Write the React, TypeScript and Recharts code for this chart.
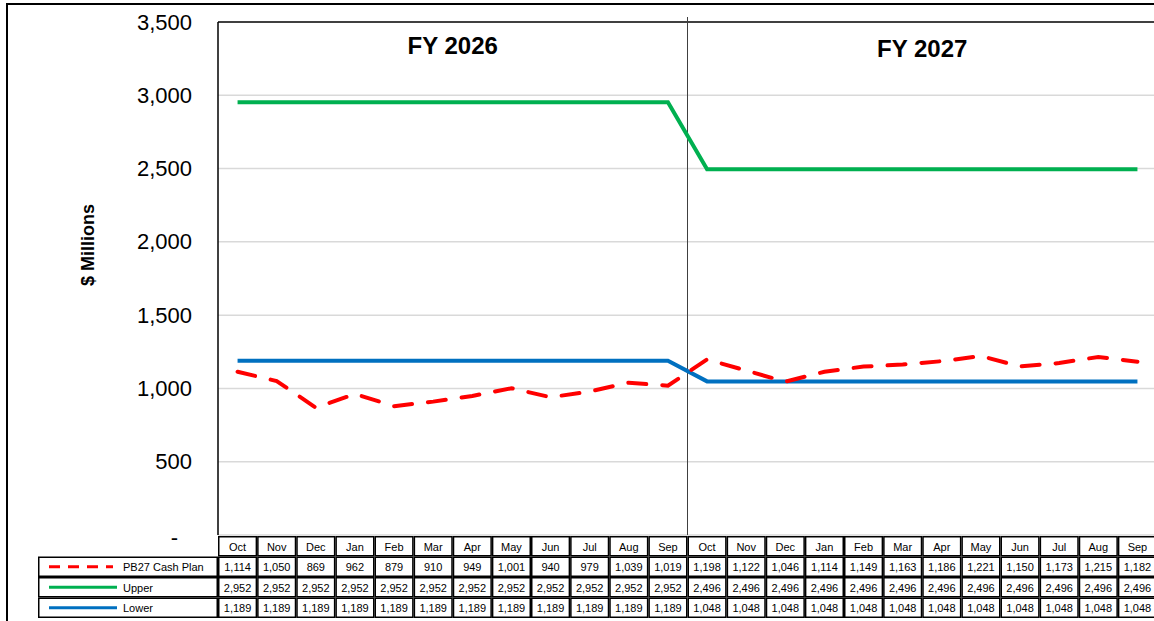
import React from 'react';
import {
  LineChart,
  Line,
  XAxis,
  YAxis,
  CartesianGrid,
  ReferenceLine,
  ReferenceArea,
} from 'recharts';

const months = ['Oct', 'Nov', 'Dec', 'Jan', 'Feb', 'Mar', 'Apr', 'May', 'Jun', 'Jul', 'Aug', 'Sep'];
const fiscalYears = ['FY 2026', 'FY 2027'];

const cashPlan = [
  1114, 1050, 869, 962, 879, 910, 949, 1001, 940, 979, 1039, 1019,
  1198, 1122, 1046, 1114, 1149, 1163, 1186, 1221, 1150, 1173, 1215, 1182,
];
const upper = [
  2952, 2952, 2952, 2952, 2952, 2952, 2952, 2952, 2952, 2952, 2952, 2952,
  2496, 2496, 2496, 2496, 2496, 2496, 2496, 2496, 2496, 2496, 2496, 2496,
];
const lower = [
  1189, 1189, 1189, 1189, 1189, 1189, 1189, 1189, 1189, 1189, 1189, 1189,
  1048, 1048, 1048, 1048, 1048, 1048, 1048, 1048, 1048, 1048, 1048, 1048,
];
const yTicks = [0, 500, 1000, 1500, 2000, 2500, 3000, 3500];

const series = [
  { key: 'cash', name: 'PB27 Cash Plan', color: '#FF0000', dash: '18 16' },
  { key: 'upper', name: 'Upper', color: '#00B050', dash: undefined },
  { key: 'lower', name: 'Lower', color: '#0070C0', dash: undefined },
];

const data = fiscalYears.flatMap((fy, f) =>
  months.map((m, i) => {
    const idx = f * 12 + i;
    return { key: `${fy}-${m}`, month: m, cash: cashPlan[idx], upper: upper[idx], lower: lower[idx] };
  })
);

// layout
const W = 1160;
const H = 621;
const TOP = 22;
const LEFT = 218;
const RIGHT = 3;
const BOTTOM = 86;
const BAND = (W - LEFT - RIGHT) / data.length;
const TABLE_TOP = H - BOTTOM + 1;
const ROW_H = 20.5;
const FONT = 'Arial, "Liberation Sans", sans-serif';

const fmt = (v: number) => v.toLocaleString('en-US');

function TableTick({ x, payload }: any) {
  const d: any = data.find((r) => r.key === payload.value);
  if (!d) return null;
  const cells = [d.month, ...series.map((s) => fmt(d[s.key]))];
  const left = x - BAND / 2;
  return (
    <g>
      {cells.map((c, r) => (
        <g key={r}>
          <rect
            x={left + 0.75}
            y={TABLE_TOP + r * ROW_H + 0.75}
            width={BAND - 1.5}
            height={ROW_H - 1.5}
            fill="#fff"
            stroke="#000"
            strokeWidth={1.5}
          />
          <text
            x={x}
            y={TABLE_TOP + r * ROW_H + ROW_H / 2 + 0.5}
            textAnchor="middle"
            dominantBaseline="central"
            fontSize={11}
            fontFamily={FONT}
            fill="#000"
          >
            {c}
          </text>
        </g>
      ))}
    </g>
  );
}

function YTick({ x, y, payload }: any) {
  const v = payload.value;
  return (
    <text
      x={v === 0 ? x - 14 : x}
      y={v === 0 ? y + 2 : y}
      textAnchor="end"
      dominantBaseline="central"
      fontSize={22}
      fontFamily={FONT}
      fill="#000"
    >
      {v === 0 ? '-' : fmt(v)}
    </text>
  );
}

const fyLabel = (text: string, dy: number) => (props: any) => {
  const vb = props.viewBox;
  return (
    <text
      x={vb.x + vb.width / 2}
      y={TOP + dy}
      textAnchor="middle"
      dominantBaseline="central"
      fontSize={24}
      fontWeight="bold"
      fontFamily={FONT}
      fill="#000"
    >
      {text}
    </text>
  );
};

export default function App() {
  return (
    <div
      style={{
        position: 'absolute',
        left: 0,
        top: 0,
        width: 1154,
        height: 621,
        overflow: 'hidden',
        background: '#fff',
        fontFamily: FONT,
      }}
    >
      <LineChart
        width={W}
        height={H}
        data={data}
        margin={{ top: TOP, left: 0, right: RIGHT, bottom: 0 }}
      >
        <CartesianGrid vertical={false} stroke="#D9D9D9" strokeWidth={1.5} />
        <XAxis
          dataKey="key"
          scale="band"
          interval={0}
          height={BOTTOM}
          axisLine={false}
          tickLine={false}
          tickSize={0}
          tickMargin={0}
          tick={<TableTick />}
        />
        <YAxis
          width={LEFT}
          domain={[0, 3500]}
          ticks={yTicks}
          axisLine={{ stroke: '#000', strokeWidth: 1.5 }}
          tickLine={false}
          tickSize={0}
          tickMargin={26}
          tick={<YTick />}
        />
        {fiscalYears.map((fy, f) => (
          <ReferenceArea
            key={fy}
            x1={`${fy}-${months[0]}`}
            x2={`${fy}-${months[11]}`}
            fill="none"
            fillOpacity={0}
            ifOverflow="visible"
            label={fyLabel(fy, f === 0 ? 23 : 26)}
          />
        ))}
        <ReferenceLine y={3500} stroke="#404040" strokeWidth={2} />
        <ReferenceLine
          x={`${fiscalYears[0]}-${months[11]}`}
          position="end"
          ifOverflow="visible"
          shape={(p: any) => (
            <line x1={p.x1} x2={p.x2} y1={Math.min(p.y1, p.y2) - 5} y2={Math.max(p.y1, p.y2)} stroke="#404040" strokeWidth={1} />
          )}
        />
        <Line dataKey="upper" stroke="#00B050" strokeWidth={4} dot={false} isAnimationActive={false} />
        <Line dataKey="lower" stroke="#0070C0" strokeWidth={4} dot={false} isAnimationActive={false} />
        <Line
          dataKey="cash"
          stroke="#FF0000"
          strokeWidth={4}
          strokeDasharray="18 16"
          strokeLinecap="round"
          dot={false}
          isAnimationActive={false}
        />
      </LineChart>
      <svg
        width={1154}
        height={621}
        style={{ position: 'absolute', left: 0, top: 0, pointerEvents: 'none' }}
      >
        <line x1={6} x2={1154} y1={4} y2={4} stroke="#000" strokeWidth={2} />
        <line x1={7} x2={7} y1={3} y2={621} stroke="#000" strokeWidth={2} />
        <text
          transform="translate(88,245) rotate(-90)"
          textAnchor="middle"
          dominantBaseline="central"
          fontSize={18}
          fontWeight="bold"
          fontFamily={FONT}
          fill="#000"
        >
          $ Millions
        </text>
        {series.map((s, r) => {
          const top = TABLE_TOP + (r + 1) * ROW_H;
          const cy = top + ROW_H / 2;
          return (
            <g key={s.key}>
              <rect
                x={38.75}
                y={top + 0.75}
                width={LEFT - 38 - 1.5}
                height={ROW_H - 1.5}
                fill="#fff"
                stroke="#000"
                strokeWidth={1.5}
              />
              <line
                x1={49}
                x2={s.dash ? 113 : 117}
                y1={cy}
                y2={cy}
                stroke={s.color}
                strokeWidth={3}
                strokeDasharray={s.dash ? '11 8' : undefined}
              />
              <text
                x={123}
                y={cy + 0.5}
                dominantBaseline="central"
                fontSize={11}
                fontFamily={FONT}
                fill="#000"
              >
                {s.name}
              </text>
            </g>
          );
        })}
      </svg>
    </div>
  );
}
